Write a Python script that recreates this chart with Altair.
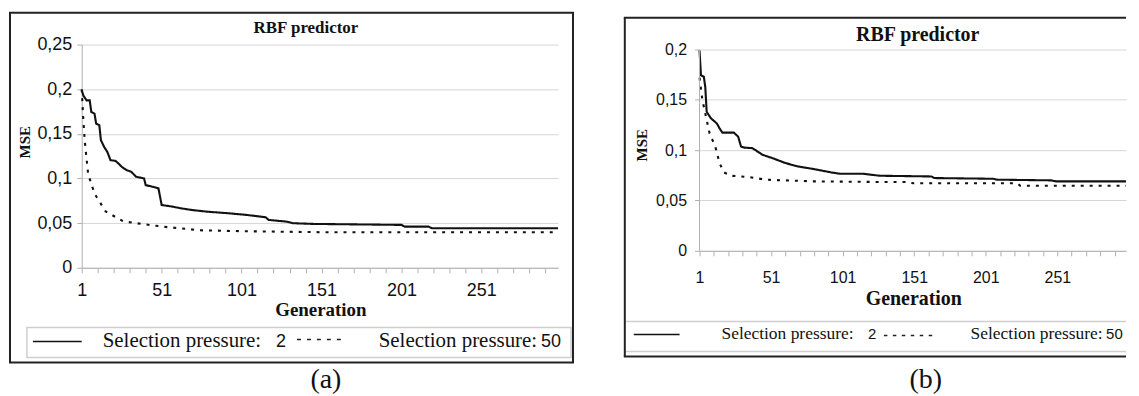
import altair as alt
import pandas as pd

# ---------------- data ----------------
series_names = ["Selection pressure: 2", "Selection pressure: 50"]
legend_word = "Selection pressure:"
legend_values = ["2", "50"]
chart_title = "RBF predictor"
x_title = "Generation"
y_title = "MSE"
captions = ["(a)", "(b)"]
x_label_values = [1, 51, 101, 151, 201, 251]
x_tick_values = list(range(1, 300, 10))
y_ticks_a = [0, 0.05, 0.1, 0.15, 0.2, 0.25]
y_ticks_b = [0, 0.05, 0.1, 0.15, 0.2]

# panel (a)
gen_a_sp2 = [1, 2, 4, 6, 7, 9, 10, 12, 13, 15, 17, 19, 22, 24, 26, 29, 32, 35, 40, 41,
             45, 49, 51, 58, 63, 70, 79, 93, 104, 116, 118, 129, 133, 146, 201, 203, 218, 220, 299]
mse_a_sp2 = [0.199, 0.193, 0.1875, 0.1875, 0.1745, 0.1726, 0.1615, 0.1596, 0.1429, 0.1354,
             0.1298, 0.1205, 0.1198, 0.1168, 0.1131, 0.1094, 0.1075, 0.1019, 0.1001, 0.0926,
             0.0908, 0.0889, 0.0703, 0.0684, 0.0666, 0.0647, 0.0629, 0.061, 0.0592, 0.0566,
             0.0536, 0.0517, 0.0499, 0.0491, 0.048, 0.0461, 0.0461, 0.0443, 0.0443]
gen_a_sp50 = [1, 2, 3, 5, 9, 16, 27, 39, 52, 75, 100, 157, 200, 299]
mse_a_sp50 = [0.2, 0.165, 0.14, 0.105, 0.083, 0.063, 0.052, 0.049, 0.046, 0.042, 0.041,
              0.0397, 0.0397, 0.0397]

# panel (b)
gen_b_sp2 = [1, 2, 4, 5, 6, 9, 13, 15, 17, 25, 28, 30, 32, 38, 45, 52, 61, 70, 81, 93,
             99, 115, 127, 163, 165, 206, 209, 247, 250, 299]
mse_b_sp2 = [0.199, 0.1744, 0.173, 0.163, 0.138, 0.1316, 0.1267, 0.1217, 0.1174, 0.1174,
             0.1134, 0.1036, 0.1026, 0.102, 0.0954, 0.0921, 0.0872, 0.0838, 0.0812, 0.0779,
             0.0766, 0.0766, 0.0746, 0.0739, 0.0723, 0.0716, 0.0707, 0.07, 0.069, 0.069]
gen_b_sp50 = [1, 3, 5, 8, 12, 15, 18, 23, 36, 47, 81, 127, 148, 150, 223, 225, 299]
mse_b_sp50 = [0.172, 0.1497, 0.1366, 0.1168, 0.1036, 0.0872, 0.0779, 0.0746, 0.0733, 0.0707,
              0.069, 0.0684, 0.0684, 0.0672, 0.0672, 0.0647, 0.0647]


def frame(g2, m2, g50, m50):
    return pd.concat([
        pd.DataFrame({"gen": g2, "mse": m2, "series": series_names[0]}),
        pd.DataFrame({"gen": g50, "mse": m50, "series": series_names[1]}),
    ], ignore_index=True)


df_a = frame(gen_a_sp2, mse_a_sp2, gen_a_sp50, mse_a_sp50)
df_b = frame(gen_b_sp2, mse_b_sp2, gen_b_sp50, mse_b_sp50)
one = pd.DataFrame({"k": [0]})

SERIF = "Liberation Serif"
SANS = "Liberation Sans"
AX = "#b0b0b0"
GRID = "#d6d6d6"

x_label_expr = "indexof([" + ",".join(str(v) for v in x_label_values) + "], datum.value) >= 0 ? datum.label : ''"
y_label_expr = "replace(format(datum.value, '.2~f'), '.', ',')"

# layout (pixels, relative to each plot area's top-left corner)
# open_right: the frame runs off the right edge (no right side drawn)
LAY = {
    "a": dict(w=478, h=224, ydom=[0, 0.25], yticks=y_ticks_a, tick_fs=18, x_lpad=9, y_lpad=5,
              border=(-72, 493, -32, 319), open_right=False, title=(225, -17, 17), ytitle=(-57, 98, 15),
              xtitle=(240, 266, 19), lbox=(-55, 491, 284, 314),
              lsolid=(-49, 0, 298), ldash=(216, 260, 296, [4, 6]),
              ltext=(21, 195, 298, 461, 304, 21, 18), caption=(245, 345, 28), yline=None),
    "b": dict(w=428, h=207, ydom=[0, 0.20495], yticks=y_ticks_b, tick_fs=16, x_lpad=14, y_lpad=8,
              border=(-75, 428, -27, 313), open_right=True, title=(219, -10, 20), ytitle=(-58, 101, 15),
              xtitle=(215, 255, 20), lbox=(-75, 428, 278, 308),
              lsolid=(-66, -20, 291), ldash=(185, 234, 292, [3.5, 5.5]),
              ltext=(22, 169, 272, 408, 295, 17.5, 15), caption=(227, 345, 28), yline=(5, 207)),
}


def hrule(x0, x1, y, color, width):
    return alt.Chart(one).mark_rule(stroke=color, strokeWidth=width).encode(
        x=alt.value(x0), x2=alt.value(x1), y=alt.value(y))


def vrule(x, y0, y1, color, width):
    return alt.Chart(one).mark_rule(stroke=color, strokeWidth=width).encode(
        x=alt.value(x), y=alt.value(y0), y2=alt.value(y1))


def panel(df, L, caption):
    lines = alt.Chart(df).mark_line(color="#111", strokeWidth=2.1).encode(
        x=alt.X("gen:Q", scale=alt.Scale(domain=[1, 299], nice=False, zero=False),
                axis=alt.Axis(values=x_tick_values, labelExpr=x_label_expr, format="d",
                              labelFont=SANS, labelFontSize=L["tick_fs"], labelColor="#111",
                              labelPadding=L["x_lpad"], labelOverlap=False, labelFlush=False,
                              tickSize=5, tickColor=AX, domainColor=AX, grid=False, title=None)),
        y=alt.Y("mse:Q", scale=alt.Scale(domain=L["ydom"], nice=False, zero=True),
                axis=alt.Axis(values=L["yticks"], labelExpr=y_label_expr,
                              labelFont=SANS, labelFontSize=L["tick_fs"], labelColor="#111",
                              labelPadding=L["y_lpad"], labelOverlap=False,
                              tickSize=5, tickColor=AX, domain=L["yline"] is None,
                              domainColor=AX, grid=True, gridColor=GRID, title=None)),
        strokeDash=alt.StrokeDash("series:N", scale=alt.Scale(domain=series_names,
                                                               range=[[1, 0], [3, 6]]), legend=None),
    )
    layers = [lines]
    if L["yline"] is not None:
        layers.append(vrule(0, L["yline"][0], L["yline"][1], AX, 1))
    bx0, bx1, by0, by1 = L["border"]
    lx0, lx1, ly0, ly1 = L["lbox"]
    if L["open_right"]:
        layers += [hrule(lx0, lx1, ly0, "#cfcfcf", 1.5), hrule(lx0, lx1, ly1, "#cfcfcf", 1.5),
                   hrule(bx0 - 1, bx1, by0, "#222", 2), hrule(bx0 - 1, bx1, by1, "#222", 2),
                   vrule(bx0, by0, by1, "#222", 2)]
    else:
        layers.append(alt.Chart(one).mark_rect(fillOpacity=0, stroke="#cfcfcf", strokeWidth=1.5).encode(
            x=alt.value(lx0), x2=alt.value(lx1), y=alt.value(ly0), y2=alt.value(ly1)))
        layers.append(alt.Chart(one).mark_rect(fillOpacity=0, stroke="#222", strokeWidth=2).encode(
            x=alt.value(bx0), x2=alt.value(bx1), y=alt.value(by0), y2=alt.value(by1)))
    tx, ty, tfs = L["title"]
    layers.append(alt.Chart(one).mark_text(text=chart_title, font=SERIF, fontWeight="bold",
                                           fontSize=tfs, color="#111", align="center",
                                           baseline="middle").encode(x=alt.value(tx), y=alt.value(ty)))
    yx, yy, yfs = L["ytitle"]
    layers.append(alt.Chart(one).mark_text(text=y_title, font=SERIF, fontWeight="bold",
                                           fontSize=yfs, color="#111", angle=270, align="center",
                                           baseline="middle").encode(x=alt.value(yx), y=alt.value(yy)))
    gx, gy, gfs = L["xtitle"]
    layers.append(alt.Chart(one).mark_text(text=x_title, font=SERIF, fontWeight="bold",
                                           fontSize=gfs, color="#111", align="center",
                                           baseline="middle").encode(x=alt.value(gx), y=alt.value(gy)))
    sx0, sx1, sy = L["lsolid"]
    layers.append(hrule(sx0, sx1, sy, "#111", 1.5))
    dx0, dx1, dy, dpat = L["ldash"]
    layers.append(alt.Chart(one).mark_rule(stroke="#222", strokeWidth=1.5, strokeDash=dpat).encode(
        x=alt.value(dx0), x2=alt.value(dx1), y=alt.value(dy)))
    t1, v1, t2, v2, tyb, sfs, nfs = L["ltext"]
    for xpos, txt, fnt, fs in [(t1, legend_word, SERIF, sfs), (v1, legend_values[0], SANS, nfs),
                               (t2, legend_word, SERIF, sfs), (v2, legend_values[1], SANS, nfs)]:
        layers.append(alt.Chart(one).mark_text(text=txt, font=fnt, fontSize=fs, color="#111",
                                               align="left", baseline="alphabetic").encode(
            x=alt.value(xpos), y=alt.value(tyb)))
    cx, cy, cfs = L["caption"]
    layers.append(alt.Chart(one).mark_text(text=caption, font=SERIF, fontSize=cfs, color="#111",
                                           align="center", baseline="alphabetic").encode(
        x=alt.value(cx), y=alt.value(cy)))
    return alt.layer(*layers).properties(width=L["w"], height=L["h"])


pa = panel(df_a, LAY["a"], captions[0])
pb = panel(df_b, LAY["b"], captions[1])

chart = alt.hconcat(pa, pb, spacing=142, bounds="flush").properties(
    padding={"left": 1, "top": 3, "right": 0, "bottom": 0},
    background="white",
).configure_view(stroke=None)

chart.save("out.html", embed_options={"renderer": "svg", "actions": False})
